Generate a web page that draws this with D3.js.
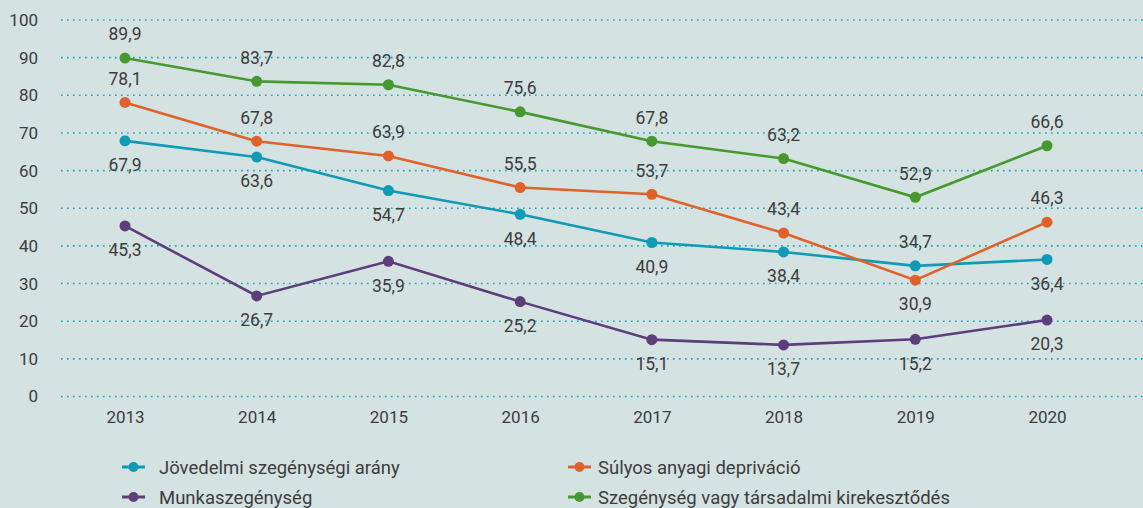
<!DOCTYPE html>
<html><head><meta charset="utf-8">
<script src="https://cdn.jsdelivr.net/npm/d3@7"></script>
<style>
html,body{margin:0;padding:0;background:#d4e2e1;}
svg{display:block;font-family:Roboto, "DejaVu Sans", sans-serif;}
</style></head>
<body>
<svg id="c" width="1143" height="508"></svg>
<script>
const years = ["2013","2014","2015","2016","2017","2018","2019","2020"];
const yTicks = [0,10,20,30,40,50,60,70,80,90,100];
const jovedelmi = [67.9,63.6,54.7,48.4,40.9,38.4,34.7,36.4];
const sulyos = [78.1,67.8,63.9,55.5,53.7,43.4,30.9,46.3];
const munka = [45.3,26.7,35.9,25.2,15.1,13.7,15.2,20.3];
const szegenyseg = [89.9,83.7,82.8,75.6,67.8,63.2,52.9,66.6];
const seriesNames = ["Jövedelmi szegénységi arány","Súlyos anyagi depriváció","Munkaszegénység","Szegénység vagy társadalmi kirekesztődés"];
// label side: 1 = above, -1 = below
const jovedelmiSide = [-1,-1,-1,-1,-1,-1,1,-1];
const sulyosSide = [1,1,1,1,1,1,-1,1];
const munkaSide = [-1,-1,-1,-1,-1,-1,-1,-1];
const szegenysegSide = [1,1,1,1,1,1,1,1];

const colors = ["#0f9ab6","#e0622b","#5d3d7b","#45992f"];
const series = [
  {name:seriesNames[0], values:jovedelmi, side:jovedelmiSide, color:colors[0]},
  {name:seriesNames[1], values:sulyos, side:sulyosSide, color:colors[1]},
  {name:seriesNames[2], values:munka, side:munkaSide, color:colors[2]},
  {name:seriesNames[3], values:szegenyseg, side:szegenysegSide, color:colors[3]}
];

const svg = d3.select("#c");
const x = d3.scalePoint().domain(years).range([125,1047]);
const y = d3.scaleLinear().domain([0,100]).range([396.5,20]);
const textColor = "#3d3d3d";

// grid
const grid = svg.append("g");
grid.selectAll("line").data(yTicks).join("line")
  .attr("x1",61).attr("x2",1143)
  .attr("y1",d=>y(d)).attr("y2",d=>y(d))
  .attr("stroke","#17a2bf").attr("stroke-width",1.6)
  .attr("stroke-dasharray","1.6 4.4").attr("stroke-linecap","butt");

// y axis
const yAxis = svg.append("g").attr("transform","translate(38,0)")
  .call(d3.axisLeft(y).tickValues(yTicks).tickSize(0).tickPadding(0));
yAxis.select(".domain").remove();
yAxis.selectAll("text").attr("font-size",17).attr("fill",textColor).attr("font-family","Roboto");

// x axis
const xAxis = svg.append("g").attr("transform","translate(0,410)")
  .call(d3.axisBottom(x).tickSize(0).tickPadding(0));
xAxis.select(".domain").remove();
xAxis.selectAll("text").attr("font-size",17).attr("fill",textColor).attr("font-family","Roboto").attr("dy","0.75em");

const line = d3.line().x((d,i)=>x(years[i])).y(d=>y(d));

series.forEach(s=>{
  const g = svg.append("g");
  g.append("path").datum(s.values).attr("d",line)
    .attr("fill","none").attr("stroke",s.color).attr("stroke-width",2.6);
  g.selectAll("circle").data(s.values).join("circle")
    .attr("cx",(d,i)=>x(years[i])).attr("cy",d=>y(d)).attr("r",5.5).attr("fill",s.color);
  g.selectAll("text").data(s.values).join("text")
    .attr("x",(d,i)=>x(years[i]))
    .attr("y",(d,i)=>y(d) - s.side[i]*24)
    .attr("dy","0.36em")
    .attr("text-anchor","middle").attr("font-size",17.5).attr("fill",textColor)
    .text(d=>d3.format(".1f")(d).replace(".",","));
});

// legend
const legendPos = [[122,467,37],[568,467,30],[122,497,37],[568,497,30]];
const legend = svg.append("g");
series.forEach((s,i)=>{
  const [lx,ly,tx] = legendPos[i];
  const g = legend.append("g").attr("transform",`translate(${lx},${ly})`);
  g.append("line").attr("x1",0).attr("x2",23).attr("y1",0).attr("y2",0).attr("stroke",s.color).attr("stroke-width",3);
  g.append("circle").attr("cx",11.5).attr("cy",0).attr("r",5).attr("fill",s.color);
  g.append("text").attr("x",tx).attr("y",0).attr("dy","0.36em").attr("font-size",18.5).attr("fill",textColor).text(s.name);
});
</script>
</body></html>
